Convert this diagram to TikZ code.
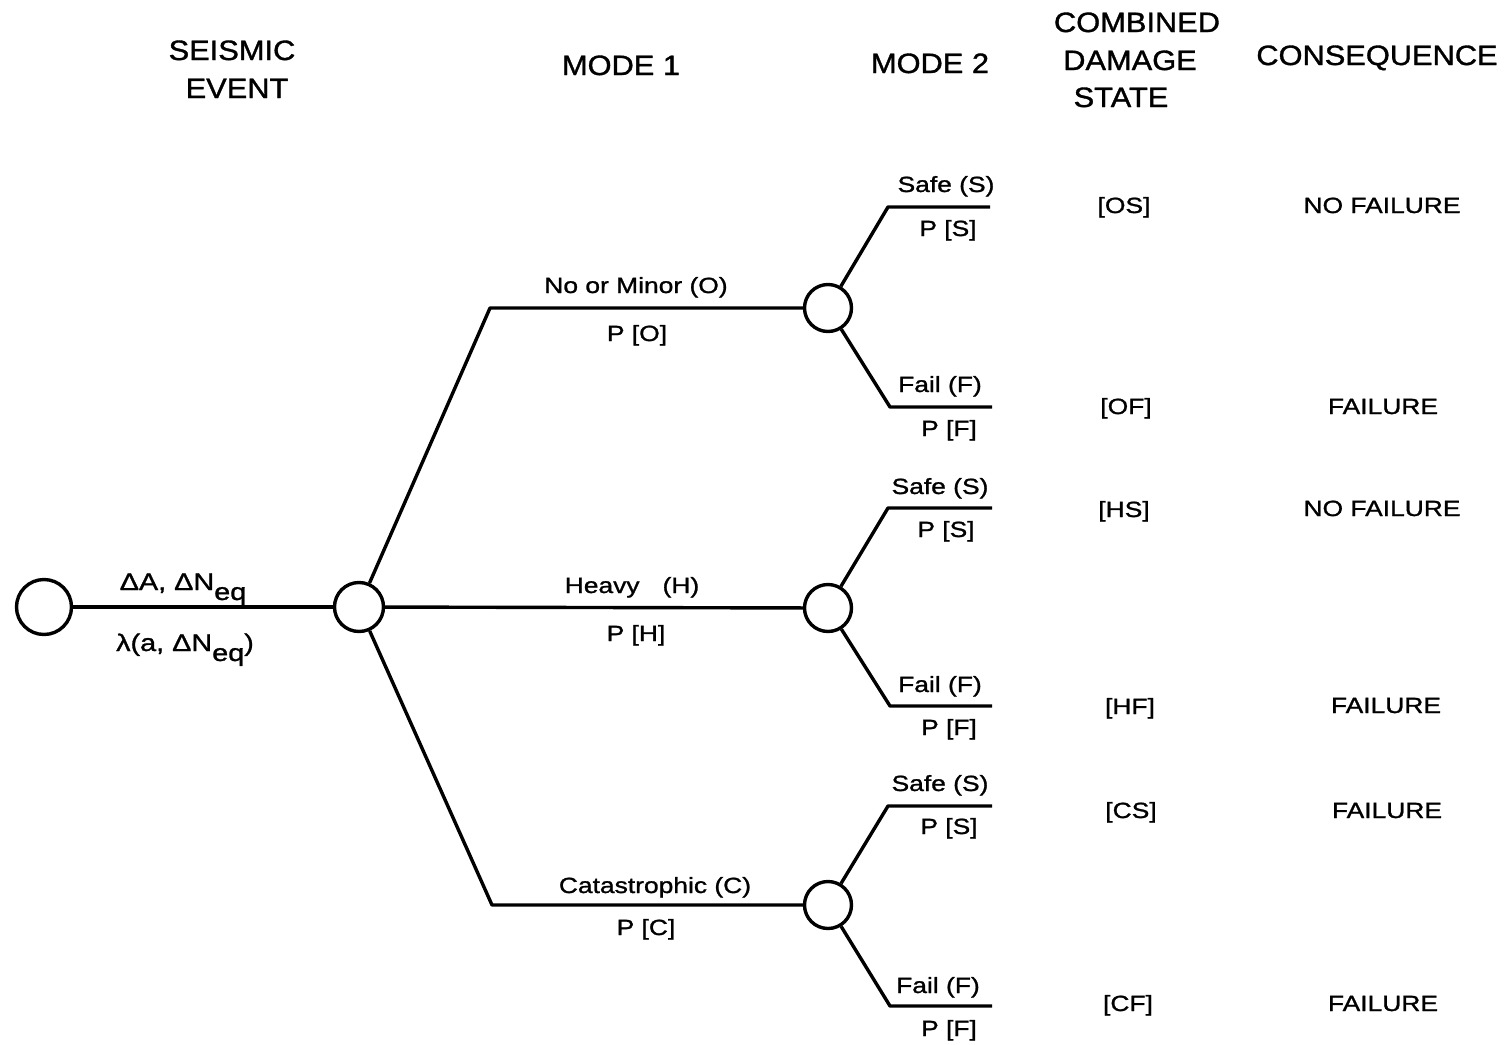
\documentclass[tikz,border=0pt]{standalone}
\usepackage{fontspec}
\setmainfont{Liberation Sans}[FakeStretch=1.2, FakeBold=1.2]
\newfontfamily\headfont{Liberation Sans}[FakeStretch=1.1, FakeBold=1.2]
\begin{document}
\begin{tikzpicture}[x=0.5pt, y=-0.5pt,
  chance/.style={circle, draw, line width=1.7pt, inner sep=0pt, fill=white},
  branch/.style={line width=1.7pt, line join=round},
  lbl/.style={inner sep=0pt, anchor=base, font=\fontsize{11}{13}\selectfont},
  biglbl/.style={inner sep=0pt, anchor=base, font=\fontsize{12}{14}\selectfont},
  head/.style={inner sep=0pt, anchor=base, font=\headfont\fontsize{14}{16}\selectfont}]
\useasboundingbox (0,0) rectangle (1512,1045);

% column headings
\node[head] (hSeis) at (232,60) {SEISMIC};
\node[head] (hEvt)  at (237,98) {EVENT};
\node[head] (hM1)   at (621,75) {MODE 1};
\node[head] (hM2)   at (930,73) {MODE 2};
\node[head] (hComb) at (1137,32) {COMBINED};
\node[head] (hDam)  at (1130,70) {DAMAGE};
\node[head] (hStat) at (1121,107) {STATE};
\node[head] (hCons) at (1377,65) {CONSEQUENCE};

% chance nodes
\node[chance, minimum size=27.5pt] (e0) at (44,607) {};
\node[chance, minimum size=24.5pt] (e1) at (359,607) {};
\node[chance, minimum size=23.5pt] (mO) at (828,308) {};
\node[chance, minimum size=23.5pt] (mH) at (828,608) {};
\node[chance, minimum size=23.5pt] (mC) at (828,905) {};

% bends and free ends of the branches
\coordinate (kO) at (490,308);
\coordinate (kC) at (492,905);
\coordinate (kOS) at (888,207);  \coordinate (eOS) at (990,207);
\coordinate (kOF) at (890,407);  \coordinate (eOF) at (992,407);
\coordinate (kHS) at (888,508);  \coordinate (eHS) at (992,508);
\coordinate (kHF) at (890,706);  \coordinate (eHF) at (992,706);
\coordinate (kCS) at (888,806);  \coordinate (eCS) at (992,806);
\coordinate (kCF) at (890,1006); \coordinate (eCF) at (992,1006);

% seismic event branch
\draw[branch] (e0) -- (e1);
% mode 1 branches
\draw[branch] (e1) -- (kO) -- (mO);
\draw[branch] (e1) -- (mH);
\draw[branch] (e1) -- (kC) -- (mC);
% mode 2 branches
\draw[branch] (mO) -- (kOS) -- (eOS);
\draw[branch] (mO) -- (kOF) -- (eOF);
\draw[branch] (mH) -- (kHS) -- (eHS);
\draw[branch] (mH) -- (kHF) -- (eHF);
\draw[branch] (mC) -- (kCS) -- (eCS);
\draw[branch] (mC) -- (kCF) -- (eCF);

% seismic event labels
\node[biglbl] (lA)   at (183,590) {ΔA, ΔN\raisebox{-5pt}{eq}};
\node[biglbl] (lLam) at (185,651) {λ(a, ΔN\raisebox{-5pt}{eq})};

% mode 1 labels
\node[lbl] (lO)  at (636,293) {No or Minor (O)};
\node[lbl] (pO)  at (637,341) {P [O]};
\node[lbl] (lH)  at (632,593) {Heavy\hspace{11.5pt}(H)};
\node[lbl] (pH)  at (636,641) {P [H]};
\node[lbl] (lC)  at (655,893) {Catastrophic (C)};
\node[lbl] (pC)  at (646,935) {P [C]};

% mode 2 labels
\node[lbl] (lOS) at (946,192) {Safe (S)};
\node[lbl] (pOS) at (948,236) {P [S]};
\node[lbl] (lOF) at (940,392) {Fail (F)};
\node[lbl] (pOF) at (949,436) {P [F]};
\node[lbl] (lHS) at (940,494) {Safe (S)};
\node[lbl] (pHS) at (946,537) {P [S]};
\node[lbl] (lHF) at (940,692) {Fail (F)};
\node[lbl] (pHF) at (949,735) {P [F]};
\node[lbl] (lCS) at (940,791) {Safe (S)};
\node[lbl] (pCS) at (949,834) {P [S]};
\node[lbl] (lCF) at (938,993) {Fail (F)};
\node[lbl] (pCF) at (949,1036) {P [F]};

% combined damage states
\node[lbl] (dOS) at (1124,213) {[OS]};
\node[lbl] (dOF) at (1126,414) {[OF]};
\node[lbl] (dHS) at (1124,517) {[HS]};
\node[lbl] (dHF) at (1130,714) {[HF]};
\node[lbl] (dCS) at (1131,818) {[CS]};
\node[lbl] (dCF) at (1128,1011) {[CF]};

% consequences
\node[lbl] (cOS) at (1382,213) {NO FAILURE};
\node[lbl] (cOF) at (1383,414) {FAILURE};
\node[lbl] (cHS) at (1382,516) {NO FAILURE};
\node[lbl] (cHF) at (1386,713) {FAILURE};
\node[lbl] (cCS) at (1387,818) {FAILURE};
\node[lbl] (cCF) at (1383,1011) {FAILURE};
\end{tikzpicture}
\end{document}
